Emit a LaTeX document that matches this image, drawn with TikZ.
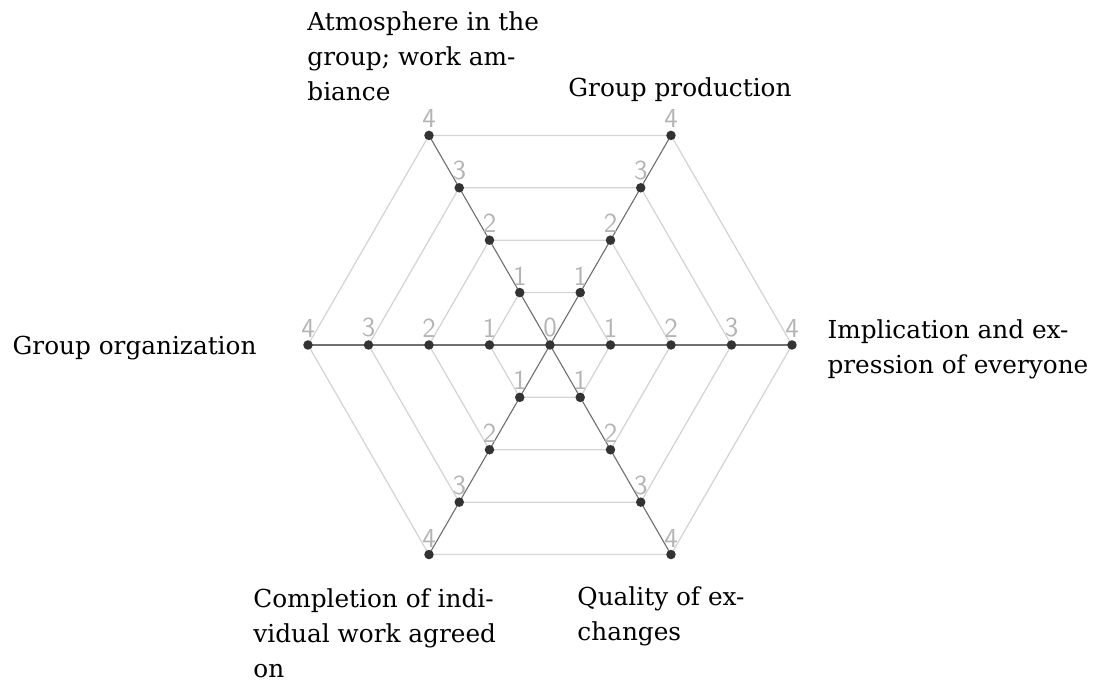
\documentclass[tikz,border=0pt]{standalone}
\usepackage{fontspec}
\setmainfont{DejaVu Serif}
\usepackage{tikz}
\definecolor{ring}{RGB}{212,212,212}
\definecolor{spoke}{RGB}{112,112,112}
\definecolor{tick}{RGB}{180,180,180}
\definecolor{dot}{RGB}{51,51,51}
\newcommand{\axisfont}{\fontsize{9.9}{14}\selectfont}
\newcommand{\tickfont}{\sffamily\fontsize{11}{13}\selectfont}
\newcommand{\drawdot}[1]{\fill[dot] (#1) circle (1.9pt);}
\tikzset{
  ringline/.style={draw=ring, line width=0.5pt},
  spokeline/.style={draw=spoke, line width=0.45pt},
  valuelabel/.style={font=\tickfont, text=tick, anchor=south, inner sep=0pt, yshift=2.8pt},
  axislabel/.style={font=\axisfont, align=left, inner sep=0pt}
}
\begin{document}
\begin{tikzpicture}[x=0.8505cm, y=0.8505cm]
\useasboundingbox (-9.091,-5.603) rectangle (9.058,5.702);
\coordinate (o) at (0,0);
\foreach \a in {0,...,5}{
  \foreach \r in {1,...,4}{
    \coordinate (p\a\r) at (\a*60:\r);
  }
}
% rings
\foreach \r in {1,...,4}{
  \draw[ringline] (p0\r)--(p1\r)--(p2\r)--(p3\r)--(p4\r)--(p5\r)--cycle;
}
% spokes
\foreach \a in {0,...,5}{
  \draw[spokeline] (o)--(p\a4);
}
% values
\node[valuelabel] (v0) at (o) {0};
\foreach \a in {0,...,5}{
  \foreach \r in {1,...,4}{
    \node[valuelabel] (v\a\r) at (p\a\r) {\r};
  }
}
% dots
\drawdot{o}
\foreach \a in {0,...,5}{
  \foreach \r in {1,...,4}{
    \drawdot{p\a\r}
  }
}
% axis names (base = last line)
\node[axislabel, anchor=base west] (limpl) at (4.579,-0.479) {Implication and ex-\\pression of everyone};
\node[axislabel, anchor=base] (lprod) at (2.149,4.099) {Group production};
\node[axislabel, anchor=base west] (latmo) at (-4.017,4.033) {Atmosphere in the\\group; work am-\\biance};
\node[axislabel, anchor=base east] (lorga) at (-4.843,-0.165) {Group organization};
\node[axislabel, anchor=base west] (lcompl) at (-4.909,-5.504) {Completion of indi-\\vidual work agreed\\on};
\node[axislabel, anchor=base west] (lqual) at (0.446,-4.893) {Quality of ex-\\changes};
\end{tikzpicture}
\end{document}
